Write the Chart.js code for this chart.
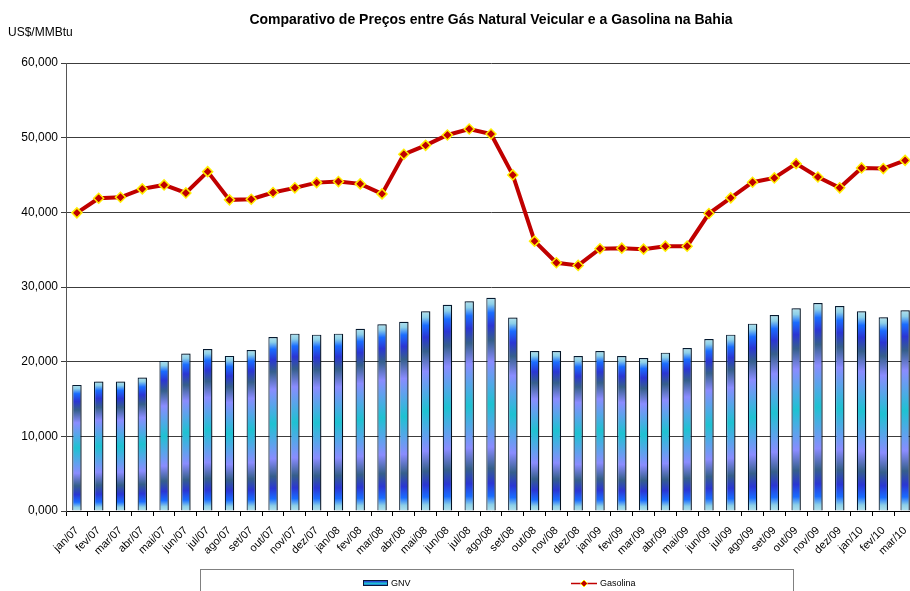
<!DOCTYPE html>
<html>
<head>
<meta charset="utf-8">
<script src="https://cdn.jsdelivr.net/npm/chart.js@4/dist/chart.umd.min.js"></script>
<style>
  html, body { margin: 0; padding: 0; background: #fff; overflow: hidden; }
  #wrap { width: 910px; height: 591px; position: relative; overflow: hidden; }
</style>
</head>
<body>
<div id="wrap"><canvas id="chart" width="916" height="591"></canvas></div>
<script>
const categories = [
  'jan/07', 'fev/07', 'mar/07', 'abr/07', 'mai/07', 'jun/07', 'jul/07', 'ago/07', 'set/07', 'out/07', 'nov/07', 'dez/07',
  'jan/08', 'fev/08', 'mar/08', 'abr/08', 'mai/08', 'jun/08', 'jul/08', 'ago/08', 'set/08', 'out/08', 'nov/08', 'dez/08',
  'jan/09', 'fev/09', 'mar/09', 'abr/09', 'mai/09', 'jun/09', 'jul/09', 'ago/09', 'set/09', 'out/09', 'nov/09', 'dez/09',
  'jan/10', 'fev/10', 'mar/10'
];

const gnv = [
  16.89, 17.34, 17.34, 17.87, 20.10, 21.08, 21.70, 20.77, 21.57, 23.30, 23.75, 23.62,
  23.75, 24.40, 25.00, 25.35, 26.74, 27.63, 28.10, 28.56, 25.90, 21.43, 21.43, 20.76,
  21.43, 20.76, 20.50, 21.21, 21.83, 23.04, 23.62, 25.09, 26.25, 27.14, 27.85, 27.45,
  26.74, 25.94, 26.87
];

const gasolina = [
  39.93, 41.89, 42.02, 43.14, 43.67, 42.60, 45.45, 41.67, 41.76, 42.65, 43.28, 43.98,
  44.12, 43.81, 42.47, 47.77, 48.97, 50.36, 51.16, 50.49, 45.01, 36.14, 33.25, 32.89,
  35.12, 35.20, 35.07, 35.47, 35.47, 39.84, 41.94, 44.03, 44.61, 46.52, 44.74, 43.28,
  45.95, 45.86, 46.96
];

const yTicks = [0, 10, 20, 30, 40, 50, 60];

const titleText = 'Comparativo de Preços entre Gás Natural Veicular e a Gasolina na Bahia';
const unitText = 'US$/MMBtu';
const FONT = '"Liberation Sans", Arial, sans-serif';

// vertical banding used inside every bar (relative to the bar's own height)
const barStops = [
  [0.00, '#b4e2ee'], [0.03, '#8ccfe8'], [0.07, '#1a6cff'], [0.13, '#2a36d4'],
  [0.20, '#355f8c'], [0.30, '#8a8cff'], [0.50, '#1ec2d2'], [0.70, '#8a8cff'],
  [0.80, '#355f8c'], [0.87, '#2a36d4'], [0.93, '#1a6cff'], [0.97, '#8ccfe8'], [1.00, '#b4e2ee']
];

function barFill(ctx) {
  const chart = ctx.chart;
  const y = chart.scales.y;
  if (!y || ctx.raw == null) return '#3a7ad8';
  const top = y.getPixelForValue(ctx.raw);
  const bottom = y.getPixelForValue(0);
  if (!isFinite(top) || !isFinite(bottom) || bottom - top < 1) return '#3a7ad8';
  const g = chart.ctx.createLinearGradient(0, top, 0, bottom);
  barStops.forEach(s => g.addColorStop(s[0], s[1]));
  return g;
}

const fmt = v => v.toFixed(3).replace('.', ',');

const decorPlugin = {
  id: 'decor',
  beforeDatasetDraw(chart, args) {
    if (args.index === 0) {
      const c = chart.ctx;
      c.save();
      c.shadowColor = 'rgba(0,0,0,0.3)';
      c.shadowOffsetX = 2;
      c.shadowOffsetY = 0;
      c.shadowBlur = 0;
    }
  },
  afterDatasetDraw(chart, args) {
    if (args.index === 0) chart.ctx.restore();
  },
  afterDraw(chart) {
    const c = chart.ctx;
    c.save();
    c.fillStyle = '#000';
    c.textBaseline = 'middle';
    c.font = 'bold 14px ' + FONT;
    c.textAlign = 'center';
    c.fillText(titleText, 491, 20);
    c.font = '12px ' + FONT;
    c.textAlign = 'left';
    c.fillText(unitText, 8, 33);

    // legend box
    c.strokeStyle = '#808080';
    c.lineWidth = 1;
    c.strokeRect(200.5, 569.5, 593, 40);

    const ly = 583;
    const ds = chart.data.datasets;
    // GNV swatch
    const sg = c.createLinearGradient(0, ly - 2, 0, ly + 3);
    sg.addColorStop(0, '#2a36d4');
    sg.addColorStop(0.5, '#1ec2d2');
    sg.addColorStop(1, '#2a36d4');
    c.fillStyle = sg;
    c.fillRect(363, ly - 2, 25, 5);
    c.strokeStyle = '#08183a';
    c.strokeRect(363.5, ly - 2.5, 24, 5);
    c.fillStyle = '#000';
    c.font = '9px ' + FONT;
    c.fillText(ds[0].label, 391, ly + 1);

    // Gasolina swatch
    c.strokeStyle = '#c00000';
    c.lineWidth = 1.5;
    c.beginPath();
    c.moveTo(571, ly + 0.5);
    c.lineTo(597, ly + 0.5);
    c.stroke();
    c.fillStyle = '#c00000';
    c.strokeStyle = '#ffee00';
    c.lineWidth = 1;
    c.beginPath();
    c.moveTo(584, ly - 3);
    c.lineTo(587.5, ly + 0.5);
    c.lineTo(584, ly + 4);
    c.lineTo(580.5, ly + 0.5);
    c.closePath();
    c.fill();
    c.stroke();
    c.fillStyle = '#000';
    c.fillText(ds[1].label, 600, ly + 1);
    c.restore();
  }
};

new Chart(document.getElementById('chart'), {
  data: {
    labels: categories,
    datasets: [
      {
        type: 'bar',
        label: 'GNV',
        data: gnv,
        backgroundColor: barFill,
        borderColor: '#061a30',
        borderWidth: 1.2,
        categoryPercentage: 1,
        barPercentage: 0.43,
        order: 2
      },
      {
        type: 'line',
        label: 'Gasolina',
        data: gasolina,
        borderColor: '#c00000',
        borderWidth: 4,
        tension: 0,
        clip: false,
        pointStyle: 'rectRot',
        pointRadius: 5,
        pointBackgroundColor: '#c00000',
        pointBorderColor: '#ffee00',
        pointBorderWidth: 1.5,
        order: 1
      }
    ]
  },
  options: {
    responsive: false,
    animation: false,
    layout: { autoPadding: false, padding: { top: 63, left: 0, right: 0, bottom: 0 } },
    plugins: {
      legend: { display: false },
      title: { display: false },
      tooltip: { enabled: false }
    },
    scales: {
      x: {
        offset: true,
        grid: {
          offset: true,
          drawOnChartArea: false,
          tickLength: 5,
          color: '#000'
        },
        border: { color: '#000', width: 1 },
        ticks: {
          autoSkip: false,
          minRotation: 45,
          maxRotation: 45,
          padding: 8,
          color: '#000',
          font: { family: FONT, size: 11 }
        },
        afterFit(scale) {
          scale.height = 80;
          scale.paddingLeft = 0;
          scale.paddingRight = 0;
        }
      },
      y: {
        min: 0,
        max: 60,
        afterBuildTicks(scale) {
          scale.ticks = yTicks.map(v => ({ value: v }));
        },
        grid: {
          color: '#3c3c3c',
          lineWidth: 1,
          tickLength: 5
        },
        border: { color: '#555', width: 1 },
        ticks: {
          callback: v => fmt(v),
          padding: 3,
          color: '#000',
          font: { family: FONT, size: 12 }
        },
        afterFit(scale) {
          scale.width = 66;
        }
      }
    }
  },
  plugins: [decorPlugin]
});
</script>
</body>
</html>
